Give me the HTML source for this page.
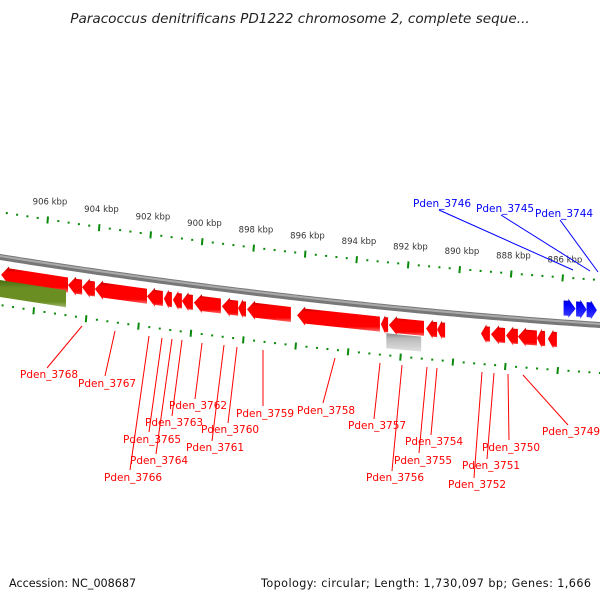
<!DOCTYPE html>
<html><head><meta charset="utf-8"><style>
body{margin:0;background:#fff}
svg{display:block;font-family:"DejaVu Sans","Liberation Sans",sans-serif}
</style></head><body>
<svg id="c" width="600" height="600" viewBox="0 0 600 600">
<defs>
<linearGradient id="gr" x1="0" y1="0" x2="0" y2="1"><stop offset="0" stop-color="#b00000"/><stop offset="0.25" stop-color="#ff0000"/><stop offset="0.8" stop-color="#ff0000"/><stop offset="1" stop-color="#ff7070"/></linearGradient>
<linearGradient id="gg" x1="0" y1="0" x2="0" y2="1"><stop offset="0" stop-color="#4a6a10"/><stop offset="0.3" stop-color="#6b8e23"/><stop offset="0.8" stop-color="#6b8e23"/><stop offset="1" stop-color="#a0b870"/></linearGradient>
<linearGradient id="ggr" x1="0" y1="0" x2="0" y2="1"><stop offset="0" stop-color="#888"/><stop offset="0.3" stop-color="#bbb"/><stop offset="1" stop-color="#e0e0e0"/></linearGradient>
<linearGradient id="gb" x1="0" y1="0" x2="0" y2="1"><stop offset="0" stop-color="#0000c0"/><stop offset="0.3" stop-color="#0000ff"/><stop offset="1" stop-color="#4040ff"/></linearGradient>
</defs>
<text x="300" y="23" text-anchor="middle" font-size="13.6" font-style="italic" fill="#222">Paracoccus denitrificans PD1222 chromosome 2, complete seque...</text>
<text x="9" y="587" font-size="11.2" fill="#111">Accession: NC_008687</text>
<text x="591" y="587" text-anchor="end" font-size="11.2" fill="#111" textLength="330">Topology: circular; Length: 1,730,097 bp; Genes: 1,666</text>
<g id="g"></g>
</svg>
<script>
// data
const majorKbp=[906,904,902,900,898,896,894,892,890,888,886];
const tickLabels=["906 kbp","904 kbp","902 kbp","900 kbp","898 kbp","896 kbp","894 kbp","892 kbp","890 kbp","888 kbp","886 kbp"];
const redStart=[907.83,905.22,904.67,904.17,902.14,901.48,901.13,900.78,900.31,899.22,898.59,898.24,896.29,893.02,892.71,891.26,890.83,889.12,888.73,888.14,887.68,886.94,886.51];
const redEnd=[905.22,904.67,904.17,902.14,901.52,901.17,900.78,900.35,899.26,898.59,898.28,896.53,893.06,892.74,891.34,890.83,890.52,888.77,888.18,887.68,886.94,886.62,886.16];
const blueStart=[885.90,885.41,885.0];
const blueEnd=[885.43,885.0,884.6];
const greenStart=[907.87], greenEnd=[905.3];
const grayStart=[892.81], grayEnd=[891.45];
const redLabels=["Pden_3768","Pden_3767","Pden_3766","Pden_3765","Pden_3764","Pden_3763","Pden_3762","Pden_3761","Pden_3760","Pden_3759","Pden_3758","Pden_3757","Pden_3756","Pden_3755","Pden_3754","Pden_3752","Pden_3751","Pden_3750","Pden_3749"];
const blueLabels=["Pden_3746","Pden_3745","Pden_3744"];

const NS="http://www.w3.org/2000/svg";
const G=document.getElementById('g');
function mk(t,a){const e=document.createElementNS(NS,t);for(const k in a)e.setAttribute(k,a[k]);G.appendChild(e);return e;}
const xO=k=>48+(906-k)/2*51.5;      // outer scale
const xI=k=>34+(906-k)/2*52.4;      // inner scale
const xG=k=>48+(906-k)*25.65;       // gene scale
const yB=x=>257+0.16*x-7.78e-5*x*x; // backbone

// backbone
let d="";for(let x=-5;x<=605;x+=5)d+=(x<0?"M":"L")+x+","+yB(x).toFixed(2);
let bb=mk('path',{d:d,fill:"none",stroke:"#777","stroke-width":6});


let bb2=mk('path',{d:d,fill:"none",stroke:"#aaa","stroke-width":2,transform:"translate(0,-1)"});



// ticks
function ticks(scale,off,labels,name){
  for(let k=908;k>=884;k-=0.4){
    const kk=Math.round(k*10)/10;const x=scale(kk);if(x<0||x>600)continue;
    const y=yB(x)+off;const maj=Math.abs(kk/2-Math.round(kk/2))<0.01;
    const e=maj?mk('line',{x1:x,y1:y-3,x2:x-0.6,y2:y+4,stroke:"#0a8a0a","stroke-width":2}):mk('rect',{x:x-1,y:y-1,width:2,height:2,fill:"#0a8a0a"});
    
    
  }
  if(labels){majorKbp.forEach((k,i)=>{const x=scale(k);
    const t=mk('text',{x:x+2,y:yB(x)+off-15,'text-anchor':'middle','font-size':8.5,fill:"#333"});t.textContent=tickLabels[i];
    
    });}
}
ticks(xO,-45,true,'outer');
ticks(xI,48,false,'inner');

// genes
function gene(s,e,dir,o1,o2,fill,head,name){
  const x1=xG(s),x2=xG(e);const a=Math.min(x1,x2),b=Math.max(x1,x2);
  const h=Math.min(head,(b-a)*0.6);const pe=2;
  let p;
  if(dir<0){const xh=a+h;
    p=[[a,(o1+o2)/2],[xh,o1-pe],[xh,o1],[b,o1],[b,o2],[xh,o2],[xh,o2+pe]];
  }else if(dir>0){const xh=b-h;
    p=[[a,o1],[xh,o1],[xh,o1-pe],[b,(o1+o2)/2],[xh,o2+pe],[xh,o2],[a,o2]];
  }else p=[[a,o1],[b,o1],[b,o2],[a,o2]];
  const pts=p.map(q=>q[0].toFixed(1)+","+(yB(q[0])+q[1]).toFixed(1)).join(" ");
  const el=mk('polygon',{points:pts,fill:fill});
  
  
}
redStart.forEach((s,i)=>gene(s,redEnd[i],-1,10,25,"url(#gr)",8,'red-gene'));
greenStart.forEach((s,i)=>gene(s,greenEnd[i],0,23,40,"url(#gg)",0,'green-gene'));
grayStart.forEach((s,i)=>gene(s,grayEnd[i],0,26,41,"url(#ggr)",0,'gray-gene'));
blueStart.forEach((s,i)=>gene(s,blueEnd[i],1,-22,-7,"url(#gb)",8,'blue-gene'));

// labels: [text x, text y, line x1,y1,x2,y2]
const redPos=[[20,374,82,326,47,368],[78,383,115,331,105,376],[104,477,149,336,130,470],[123,439,162,338,149,432],[130,460,172,339,156,454],[145,422,182,340,172,416],[169,405,202,343,195,399],[186,447,224,345,212,441],[201,429,237,347,228,423],[236,413,263,350,263,406],[297,410,335,358,323,403],[348,425,380,363,374,419],[366,477,402,365,392,471],[394,460,427,367,419,453],[405,441,437,368,431,435],[448,484,482,372,474,478],[462,465,494,373,487,459],[482,447,508,374,509,440],[542,431,523,375,568,425]];
redLabels.forEach((t,i)=>{const p=redPos[i];
  const l=mk('line',{x1:p[2],y1:p[3],x2:p[4],y2:p[5],stroke:"#f00","stroke-width":1});
  
  
  const e=mk('text',{x:p[0],y:p[1]+4,'font-size':10.5,fill:"#f00"});e.textContent=t;
  
  
});
const bluePos=[[413,203,439,210,573,270],[476,208,501,215,590,271],[535,213,560,220,598,272]];
blueLabels.forEach((t,i)=>{const p=bluePos[i];
  const l=mk('line',{x1:p[2],y1:p[3],x2:p[4],y2:p[5],stroke:"#00f","stroke-width":1});
  
  
  const e=mk('text',{x:p[0],y:p[1]+4,'font-size':10.5,fill:"#00f"});e.textContent=t;
  
  
});
</script>
</body></html>
